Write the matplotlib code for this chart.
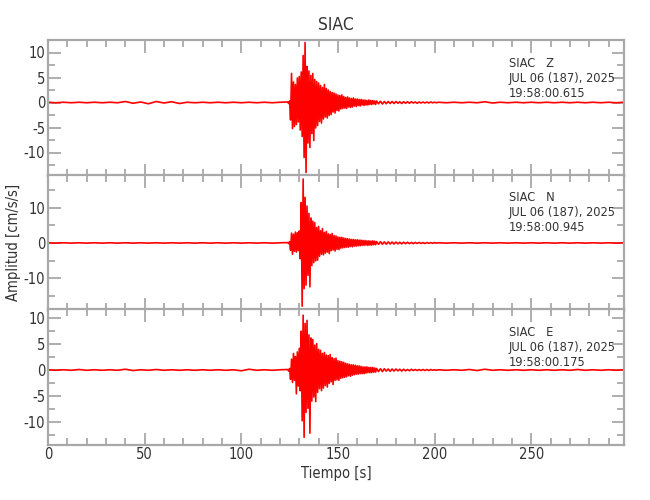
import numpy as np
import matplotlib
matplotlib.use('Agg')
import matplotlib.pyplot as plt
from matplotlib.ticker import MultipleLocator

plt.rcParams['font.family'] = ['DejaVu Sans']
plt.rcParams['font.stretch'] = 'condensed'
plt.rcParams['axes.unicode_minus'] = False

# Estacion y componentes
estacion = 'SIAC'
componentes = ['Z', 'N', 'E']
fecha = 'JUL 06 (187), 2025'
horas = ['19:58:00.615', '19:58:00.945', '19:58:00.175']

# Valores leidos del sismograma (cm/s/s)
# ruido previo: cada 4 s desde 0 s
z_pre = [0.05, -0.05, 0.05, -0.05, 0.05, -0.05, 0.05, -0.05, 0.05, -0.05, 0.2, -0.15, 0.1, -0.25, 0.2, -0.1,
         0.15, -0.2, 0.05, -0.05, 0.05, -0.05, 0.05, -0.05, 0.05, -0.05, 0.05, -0.05, 0.05, -0.05, 0.05]
n_pre = [0.05, -0.05, 0.05, -0.05, 0.05, -0.05, 0.05, -0.05, 0.05, -0.05, 0.05, -0.05, 0.05, -0.05, 0.05, -0.05,
         0.05, -0.05, 0.05, -0.05, 0.05, -0.05, 0.05, -0.05, 0.05, -0.05, 0.05, -0.05, 0.05, -0.05, 0.05]
e_pre = [0.05, -0.05, 0.05, -0.05, 0.1, -0.05, 0.05, -0.05, 0.05, -0.05, 0.15, -0.1, 0.05, -0.05, 0.1, -0.05,
         0.05, -0.05, 0.05, -0.05, 0.05, -0.05, 0.05, -0.05, 0.05, -0.15, 0.15, -0.05, 0.05, -0.05, 0.05]

# evento: cada 0.5 s desde 124 s
z_evt = [0.1, -0.2, 0.3, -3.5, 5.8, -5.2, 4.1, -4.8, 3.6, -4.4, 4.9, -3.9, 5.2, -5.5, 6.1, -6.8,
         9.4, -11.0, 12.0, -14.0, 7.2, -8.1, 6.3, -9.0, 5.4, -6.2, 5.8, -7.6, 4.6, -5.1, 4.2, -4.6,
         3.9, -3.8, 3.4, -4.1, 3.0, -3.3, 3.6, -2.9, 2.8, -3.1, 2.5, -2.6, 2.2, -2.4, 2.0, -1.9,
         1.9, -2.1, 1.7, -1.6, 1.5, -1.7, 1.4, -1.3, 1.5, -1.2, 1.2, -1.1, 1.0, -1.2, 1.1, -0.9,
         0.9, -1.0, 0.8, -0.9, 0.9, -0.7, 0.7, -0.8, 0.7, -0.6, 0.6, -0.7, 0.6, -0.5, 0.5, -0.6,
         0.5, -0.5, 0.4, -0.5, 0.5, -0.4, 0.4, -0.4, 0.4, -0.3, 0.3, -0.4]
n_evt = [0.1, -0.2, 0.4, -2.1, 2.8, -3.2, 2.5, -2.4, 3.1, -2.6, 2.9, -2.2, 3.4, -4.5, 11.5, -18.0,
         18.2, -13.0, 13.0, -12.0, 10.5, -9.2, 8.4, -12.5, 7.1, -6.4, 6.2, -5.6, 5.8, -5.1, 4.4, -4.9,
         4.7, -3.8, 3.5, -3.2, 4.1, -3.4, 3.0, -2.9, 3.3, -2.6, 2.6, -3.0, 2.4, -2.2, 2.7, -2.0,
         2.1, -2.3, 2.0, -1.8, 1.7, -1.9, 1.6, -1.5, 1.6, -1.4, 1.4, -1.3, 1.3, -1.2, 1.2, -1.2,
         1.1, -1.0, 1.0, -1.1, 1.0, -0.9, 0.9, -0.9, 0.9, -0.8, 0.8, -0.8, 0.8, -0.7, 0.7, -0.7,
         0.7, -0.6, 0.6, -0.7, 0.6, -0.6, 0.5, -0.6, 0.6, -0.5, 0.5, -0.5]
e_evt = [0.1, -0.2, 0.3, -1.8, 2.1, -2.4, 3.2, -2.0, 2.6, -4.6, 3.5, -3.1, 4.2, -4.0, 7.5, -9.8,
         10.6, -13.0, 9.0, -8.2, 9.6, -7.4, 6.8, -12.2, 6.2, -6.0, 5.9, -5.2, 4.8, -6.1, 5.1, -4.3,
         4.0, -3.6, 3.8, -4.0, 3.2, -3.5, 3.4, -3.0, 2.9, -3.3, 2.8, -2.6, 3.0, -2.3, 2.4, -2.8,
         2.2, -2.0, 2.3, -1.9, 1.8, -2.0, 1.7, -1.6, 1.6, -1.5, 1.5, -1.4, 1.3, -1.3, 1.2, -1.1,
         1.1, -1.2, 1.0, -1.0, 1.0, -0.9, 0.9, -0.8, 0.8, -0.8, 0.8, -0.7, 0.7, -0.7, 0.6, -0.7,
         0.6, -0.6, 0.6, -0.5, 0.5, -0.5, 0.5, -0.5, 0.5, -0.4, 0.4, -0.4]

# coda: cada 1 s desde 170 s
z_coda = [0.3, -0.25, 0.25, -0.3, 0.2, -0.25, 0.2, -0.2, 0.2, -0.2, 0.2, -0.15, 0.15, -0.2, 0.15, -0.15,
          0.15, -0.15, 0.15, -0.1, 0.1, -0.15, 0.1, -0.1, 0.1, -0.1, 0.1, -0.1, 0.1, -0.05, 0.05, -0.05]
n_coda = [0.4, -0.4, 0.35, -0.35, 0.3, -0.35, 0.3, -0.3, 0.25, -0.3, 0.25, -0.25, 0.2, -0.25, 0.2, -0.2,
          0.2, -0.2, 0.15, -0.2, 0.15, -0.15, 0.15, -0.15, 0.1, -0.15, 0.1, -0.1, 0.1, -0.1, 0.1, -0.05]
e_coda = [0.3, -0.3, 0.25, -0.3, 0.25, -0.2, 0.2, -0.25, 0.2, -0.2, 0.2, -0.15, 0.15, -0.2, 0.15, -0.15,
          0.1, -0.15, 0.15, -0.1, 0.1, -0.1, 0.1, -0.1, 0.1, -0.1, 0.1, -0.1, 0.1, -0.05, 0.05, -0.05]

# ruido posterior: cada 4 s desde 202 s
z_post = [0.05, -0.05, 0.05, -0.05, 0.05, -0.05, 0.15, -0.1, 0.05, -0.05, 0.05, -0.05, 0.05, -0.05, 0.05,
          -0.05, 0.05, -0.05, 0.05, -0.05, 0.05, -0.05, 0.05, -0.05, 0.05]
n_post = [0.05, -0.05, 0.05, -0.05, 0.05, -0.05, 0.05, -0.05, 0.05, -0.05, 0.05, -0.05, 0.05, -0.05, 0.05,
          -0.05, 0.05, -0.05, 0.05, -0.05, 0.05, -0.05, 0.05, -0.05, 0.05]
e_post = [0.05, -0.05, 0.05, -0.05, 0.1, -0.1, 0.15, -0.05, 0.05, -0.05, 0.05, -0.05, 0.05, -0.05, 0.05,
          -0.05, 0.05, -0.05, 0.1, -0.05, 0.05, -0.05, 0.05, -0.05, 0.05]

pre = [z_pre, n_pre, e_pre]
evt = [z_evt, n_evt, e_evt]
coda = [z_coda, n_coda, e_coda]
post = [z_post, n_post, e_post]

ylims = [(-14.6, 12.5), (-19.1, 19.5), (-14.4, 11.8)]
mayor = [5, 10, 5]
menor = [2.5, 5, 2.5]


def traza(a, b, c, d):
    t = np.concatenate([4.0 * np.arange(len(a)),
                        124 + 0.5 * np.arange(len(b)),
                        170 + 1.0 * np.arange(len(c)),
                        202 + 4.0 * np.arange(len(d))])
    y = np.concatenate([a, b, c, d])
    return t, y


gris = '#a8a8a8'
texto = '#333333'

fig = plt.figure(figsize=(6.5, 5), dpi=100)
izq, ancho = 48 / 650, 576 / 650
arriba = [40, 174.5, 309]
alto = 135.5

for i in range(3):
    ax = fig.add_axes([izq, 1 - (arriba[i] + alto) / 500, ancho, alto / 500])
    t, y = traza(pre[i], evt[i], coda[i], post[i])
    ax.plot(t, y, color='red', lw=1.2)
    ax.set_xlim(0, 298)
    ax.set_ylim(*ylims[i])
    ax.xaxis.set_major_locator(MultipleLocator(50))
    ax.xaxis.set_minor_locator(MultipleLocator(10))
    ax.yaxis.set_major_locator(MultipleLocator(mayor[i]))
    ax.yaxis.set_minor_locator(MultipleLocator(menor[i]))
    for s in ax.spines.values():
        s.set_color(gris)
        s.set_linewidth(1.6)
    ax.tick_params(which='both', direction='in', top=True, right=True, color=gris,
                   width=1.3, labelcolor=texto, labelsize=10.5, pad=2)
    ax.tick_params(which='major', length=9)
    ax.tick_params(which='minor', length=5)
    if i < 2:
        ax.tick_params(labelbottom=False)
    ax.text(0.80, 0.875, estacion + '   ' + componentes[i] + '\n' + fecha + '\n' + horas[i],
            transform=ax.transAxes, fontsize=9.2, color=texto, va='top', ha='left',
            linespacing=1.2)
    if i == 0:
        ax.set_title(estacion, fontsize=12.5, color=texto, pad=7)
    if i == 1:
        ax.set_ylabel('Amplitud [cm/s/s]', fontsize=10.5, color=texto)
        ax.yaxis.set_label_coords(-0.047, 0.5)
    if i == 2:
        ax.set_xlabel('Tiempo [s]', fontsize=10.5, color=texto, labelpad=3)

plt.savefig('out.png', dpi=100)
